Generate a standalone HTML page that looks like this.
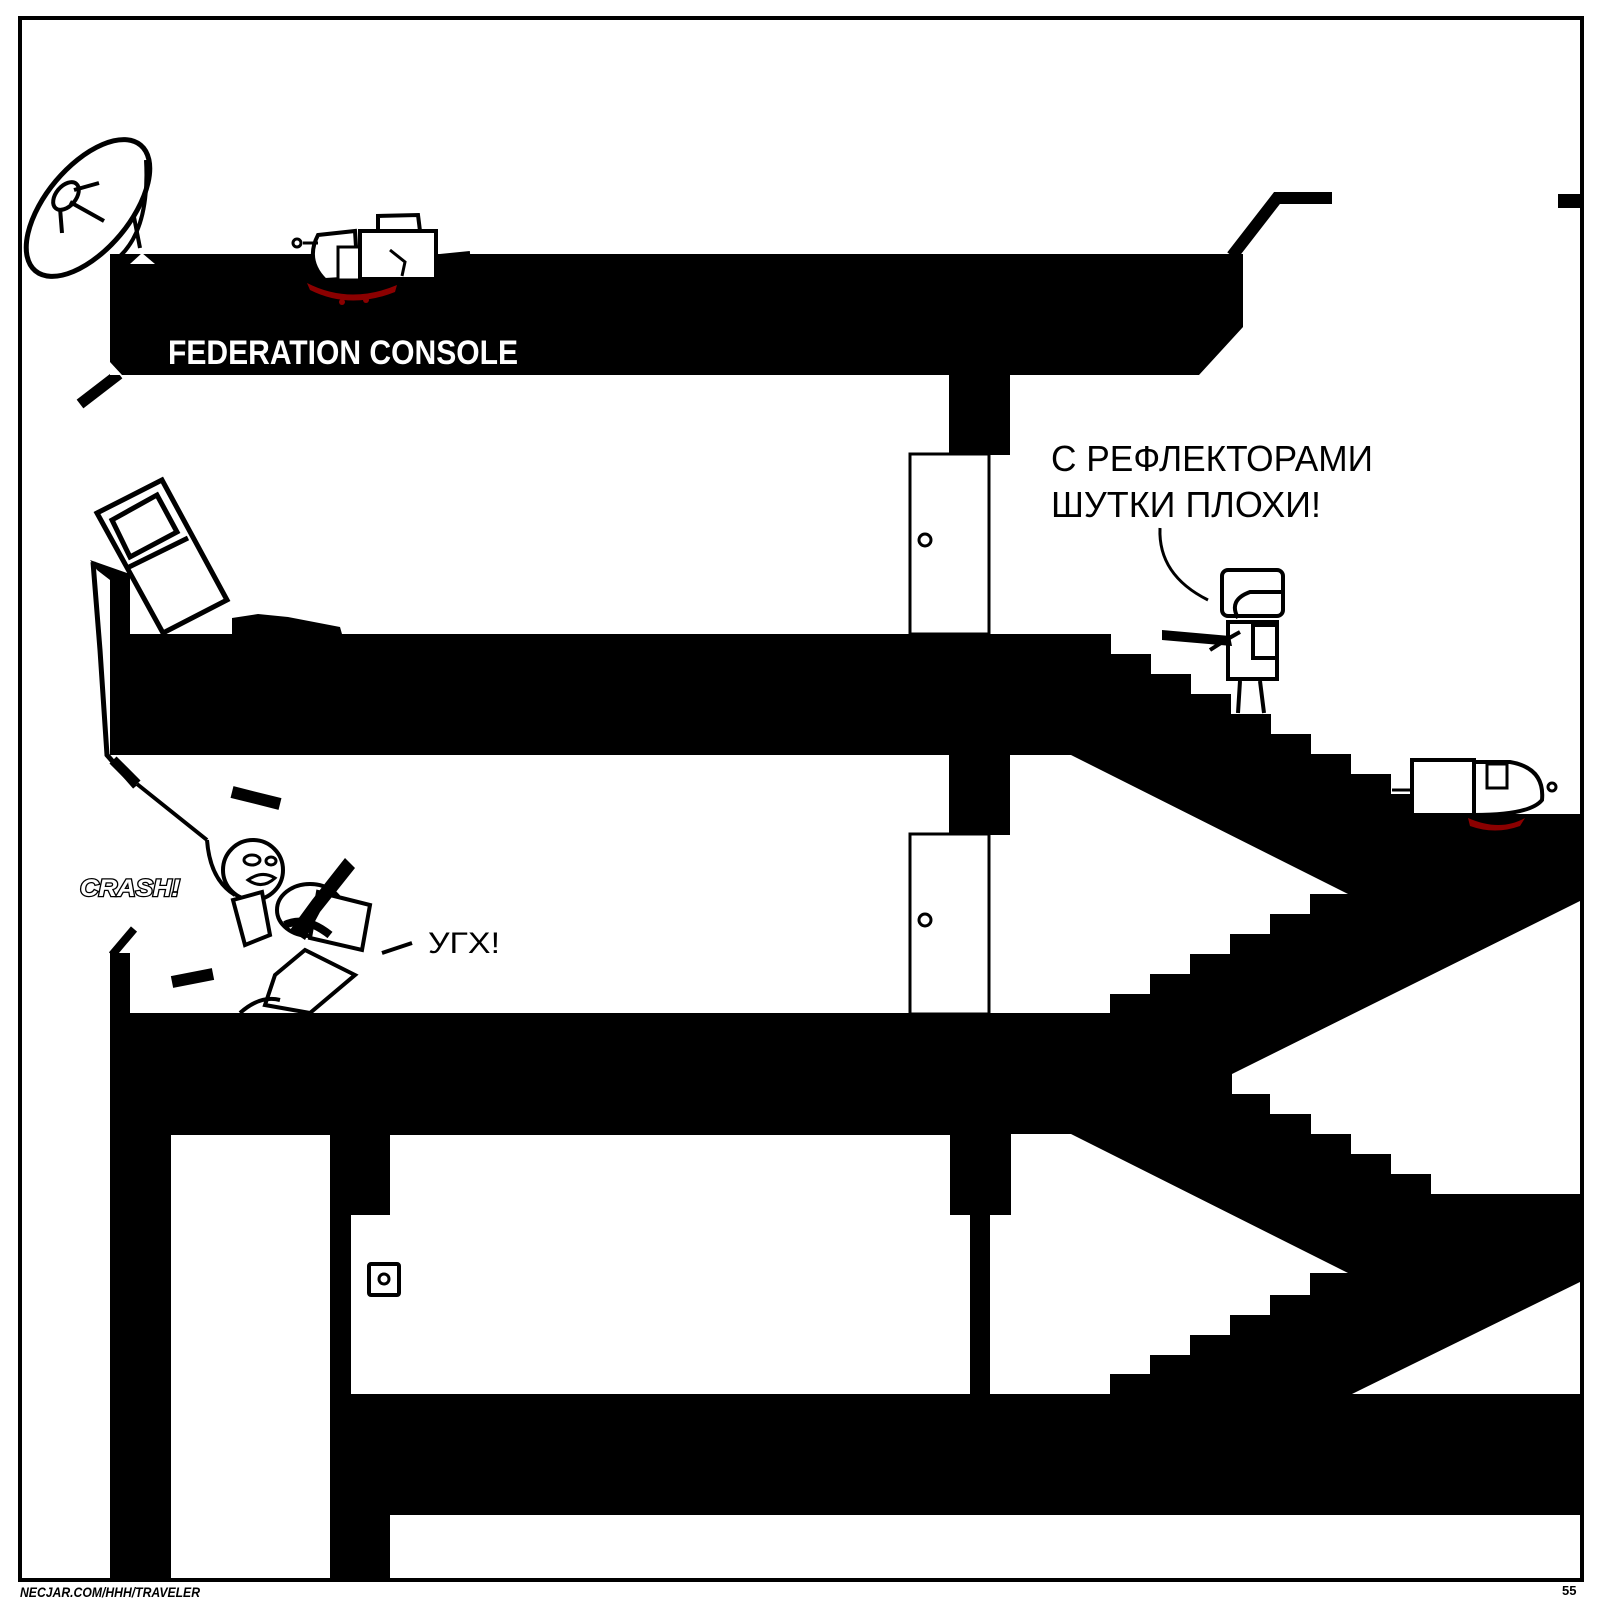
<!DOCTYPE html>
<html><head><meta charset="utf-8"><style>
html,body{margin:0;padding:0;background:#fff;}
svg{display:block;}
text{font-family:"Liberation Sans",sans-serif;}
</style></head><body>
<svg width="1600" height="1600" viewBox="0 0 1600 1600" xmlns="http://www.w3.org/2000/svg">
<rect x="0" y="0" width="1600" height="1600" fill="#fff"/>

<!-- ROOF -->
<polygon points="110,254 1243,254 1243,327 1199,375 110,375" fill="#000"/>
<polyline points="1232,256 1277,198 1332,198" fill="none" stroke="#000" stroke-width="12"/>
<rect x="1558" y="194" width="24" height="14" fill="#000"/>
<line x1="80" y1="404" x2="119" y2="374" stroke="#000" stroke-width="11"/>
<polygon points="110,362 122,375 110,375" fill="#fff"/>
<text x="168" y="364" font-family="Liberation Mono" font-weight="bold" font-size="34" fill="#fff" textLength="350" lengthAdjust="spacingAndGlyphs">FEDERATION CONSOLE</text>

<!-- column + door 1 -->
<rect x="949" y="375" width="61" height="80" fill="#000"/>
<rect x="910" y="454" width="79" height="180" fill="#fff" stroke="#000" stroke-width="3"/>
<circle cx="925" cy="540" r="6" fill="#fff" stroke="#000" stroke-width="3"/>

<!-- main black mass -->
<polygon fill="#000" points="
110,634 1111,634 1111,654 1151,654 1151,674 1191,674 1191,694 1231,694 1231,714 1271,714 1271,734 1311,734 1311,754 1351,754 1351,774 1391,774 1391,794 1431,794 1431,814 1582,814
1582,1515 390,1515 390,1582 110,1582 110,1013
1110,1013 1110,994 1150,994 1150,974 1190,974 1190,954 1230,954 1230,934 1270,934 1270,914 1310,914 1310,894 1348,894
1071,755 110,755"/>

<!-- white holes -->
<polygon fill="#fff" points="1582,900 1232,1074 1232,1094 1270,1094 1270,1114 1311,1114 1311,1134 1351,1134 1351,1154 1391,1154 1391,1174 1431,1174 1431,1194 1582,1194"/>
<polygon fill="#fff" points="1011,1134 1071,1134 1348,1273 1310,1273 1310,1295 1270,1295 1270,1315 1230,1315 1230,1335 1190,1335 1190,1355 1150,1355 1150,1374 1110,1374 1110,1394 990,1394 990,1215 1011,1215"/>
<polygon fill="#fff" points="1582,1281 1352,1394 1582,1394"/>
<rect x="171" y="1135" width="159" height="447" fill="#fff"/>
<polygon fill="#fff" points="390,1135 950,1135 950,1215 970,1215 970,1394 351,1394 351,1215 390,1215"/>
<rect x="390" y="1515" width="1192" height="67" fill="#fff"/>
<rect x="369" y="1264" width="30" height="31" fill="#fff" stroke="#000" stroke-width="4" rx="2"/>
<circle cx="384" cy="1279" r="5" fill="none" stroke="#000" stroke-width="3"/>

<!-- column + door 2 -->
<rect x="949" y="755" width="61" height="80" fill="#000"/>
<rect x="910" y="834" width="79" height="180" fill="#fff" stroke="#000" stroke-width="3"/>
<circle cx="925" cy="920" r="6" fill="#fff" stroke="#000" stroke-width="3"/>

<!-- left broken window floor 2 -->
<polygon fill="#000" points="90,560 127,573 130,573 130,634 110,634 110,580 97,570"/>
<polyline points="93,562 100,650 107,755 135,787" fill="none" stroke="#000" stroke-width="5"/>
<!-- floor3 left wall -->
<rect x="110" y="953" width="20" height="60" fill="#000"/>
<line x1="112" y1="955" x2="134" y2="929" stroke="#000" stroke-width="8"/>

<!-- monitor -->
<polygon points="97,513 162,480 227,600 163,633" fill="#fff" stroke="#000" stroke-width="5"/>
<polygon points="112,520 157,495 177,532 130,557" fill="none" stroke="#000" stroke-width="5"/>
<line x1="127" y1="568" x2="188" y2="538" stroke="#000" stroke-width="5"/>
<!-- gun on floor -->
<path d="M232,618 L258,614 L288,617 L340,627 L342,634 L232,634 Z" fill="#000"/>

<!-- satellite dish -->
<ellipse cx="88" cy="208" rx="42" ry="82" transform="rotate(40 88 208)" fill="#fff" stroke="#000" stroke-width="5"/>
<path d="M146,160 Q150,230 118,258" fill="none" stroke="#000" stroke-width="4"/>
<ellipse cx="66" cy="196" rx="10" ry="16" transform="rotate(40 66 196)" fill="#fff" stroke="#000" stroke-width="4"/>
<line x1="74" y1="190" x2="99" y2="183" stroke="#000" stroke-width="4"/>
<line x1="70" y1="202" x2="104" y2="221" stroke="#000" stroke-width="4"/>
<line x1="60" y1="208" x2="62" y2="233" stroke="#000" stroke-width="4"/>
<line x1="134" y1="217" x2="140" y2="248" stroke="#000" stroke-width="4"/>
<polygon points="130,264 142,253 155,264" fill="#fff"/>

<!-- dead body top -->
<path d="M307,283 Q350,305 397,285 L395,292 Q350,310 310,290 Z" fill="#8b0000"/>
<circle cx="342" cy="302" r="3" fill="#8b0000"/><circle cx="366" cy="300" r="3" fill="#8b0000"/>
<path d="M318,235 L355,231 L358,278 L325,280 Q305,260 318,235 Z" fill="#fff" stroke="#000" stroke-width="4"/>
<rect x="338" y="247" width="22" height="33" fill="#fff" stroke="#000" stroke-width="3"/>
<rect x="360" y="231" width="76" height="48" fill="#fff" stroke="#000" stroke-width="4"/>
<path d="M378,231 L378,216 L418,215 L420,231" fill="none" stroke="#000" stroke-width="4"/>
<path d="M390,250 L405,262 L402,276" fill="none" stroke="#000" stroke-width="3"/>
<path d="M318,243 L303,243" stroke="#000" stroke-width="3"/><circle cx="297" cy="243" r="4" fill="none" stroke="#000" stroke-width="3"/>
<path d="M440,256 L470,253" stroke="#000" stroke-width="4"/>

<!-- speech text -->
<text x="1051" y="471" font-size="36" fill="#000" textLength="322" lengthAdjust="spacingAndGlyphs">С РЕФЛЕКТОРАМИ</text>
<text x="1051" y="517" font-size="36" fill="#000" textLength="270" lengthAdjust="spacingAndGlyphs">ШУТКИ ПЛОХИ!</text>
<path d="M1160,528 Q1158,575 1208,600" fill="none" stroke="#000" stroke-width="3"/>

<!-- soldier -->
<rect x="1222" y="570" width="61" height="46" rx="6" fill="#fff" stroke="#000" stroke-width="4"/>
<path d="M1238,618 Q1228,600 1250,592 L1283,592" fill="none" stroke="#000" stroke-width="4"/>
<rect x="1228" y="622" width="49" height="57" fill="#fff" stroke="#000" stroke-width="4"/>
<rect x="1253" y="625" width="24" height="33" fill="#fff" stroke="#000" stroke-width="4"/>
<path d="M1240,681 L1238,713 M1260,681 L1264,713" stroke="#000" stroke-width="4"/>
<path d="M1162,630 L1230,636 L1232,646 L1162,640 Z" fill="#000"/>
<path d="M1210,650 Q1225,640 1240,632" fill="none" stroke="#000" stroke-width="4"/>

<!-- dead body right -->
<path d="M1468,818 Q1500,832 1525,818 L1520,826 Q1495,835 1470,826 Z" fill="#8b0000"/>
<path d="M1392,790 L1412,790 M1392,796 L1412,796" stroke="#000" stroke-width="3"/>
<rect x="1412" y="760" width="62" height="55" fill="#fff" stroke="#000" stroke-width="4"/>
<path d="M1474,762 L1510,762 Q1545,768 1542,800 Q1530,815 1474,815 Z" fill="#fff" stroke="#000" stroke-width="4"/>
<rect x="1487" y="764" width="20" height="24" fill="#fff" stroke="#000" stroke-width="3"/>
<circle cx="1552" cy="787" r="4" fill="none" stroke="#000" stroke-width="3"/>

<!-- fight -->
<line x1="113" y1="760" x2="137" y2="784" stroke="#000" stroke-width="10"/>
<line x1="137" y1="784" x2="207" y2="840" stroke="#000" stroke-width="4"/>
<line x1="232" y1="792" x2="280" y2="804" stroke="#000" stroke-width="12"/>
<line x1="172" y1="982" x2="213" y2="974" stroke="#000" stroke-width="12"/>
<circle cx="253" cy="870" r="30" fill="#fff" stroke="#000" stroke-width="4"/>
<ellipse cx="252" cy="860" rx="8" ry="5" fill="none" stroke="#000" stroke-width="3"/>
<ellipse cx="271" cy="861" rx="5" ry="4" fill="none" stroke="#000" stroke-width="3"/>
<path d="M248,880 Q262,870 275,878 Q262,890 248,880 Z" fill="none" stroke="#000" stroke-width="3"/>
<path d="M207,840 Q210,880 235,895" fill="none" stroke="#000" stroke-width="4"/>
<polygon points="233,900 262,892 270,935 245,945" fill="#fff" stroke="#000" stroke-width="4"/>
<ellipse cx="310" cy="910" rx="33" ry="26" fill="#fff" stroke="#000" stroke-width="4"/>
<polygon points="318,892 370,905 362,950 310,938" fill="#fff" stroke="#000" stroke-width="4"/>
<polygon points="275,975 305,950 355,975 310,1013 265,1005" fill="#fff" stroke="#000" stroke-width="4"/>
<path d="M240,1013 Q260,995 280,1000" fill="none" stroke="#000" stroke-width="4"/>
<path d="M345,858 L355,868 L320,912 L305,940 L290,930 L312,900 Z" fill="#000"/>
<path d="M285,925 Q305,915 330,935" fill="none" stroke="#000" stroke-width="8"/>
<text x="80" y="896" font-size="24" font-weight="bold" font-style="italic" fill="#fff" stroke="#000" stroke-width="2.5" paint-order="stroke" textLength="100" lengthAdjust="spacingAndGlyphs">CRASH!</text>
<line x1="382" y1="953" x2="412" y2="943" stroke="#000" stroke-width="4"/>
<text x="428" y="953" font-size="30" fill="#000" textLength="72" lengthAdjust="spacingAndGlyphs">УГХ!</text>

<!-- panel border -->
<rect x="20" y="18" width="1562" height="1562" fill="none" stroke="#000" stroke-width="4"/>
<text x="20" y="1597" font-size="14" font-weight="bold" font-style="italic" fill="#000" textLength="180" lengthAdjust="spacingAndGlyphs">NECJAR.COM/HHH/TRAVELER</text>
<text x="1562" y="1595" font-size="13" font-weight="bold" fill="#000">55</text>
</svg>
</body></html>
